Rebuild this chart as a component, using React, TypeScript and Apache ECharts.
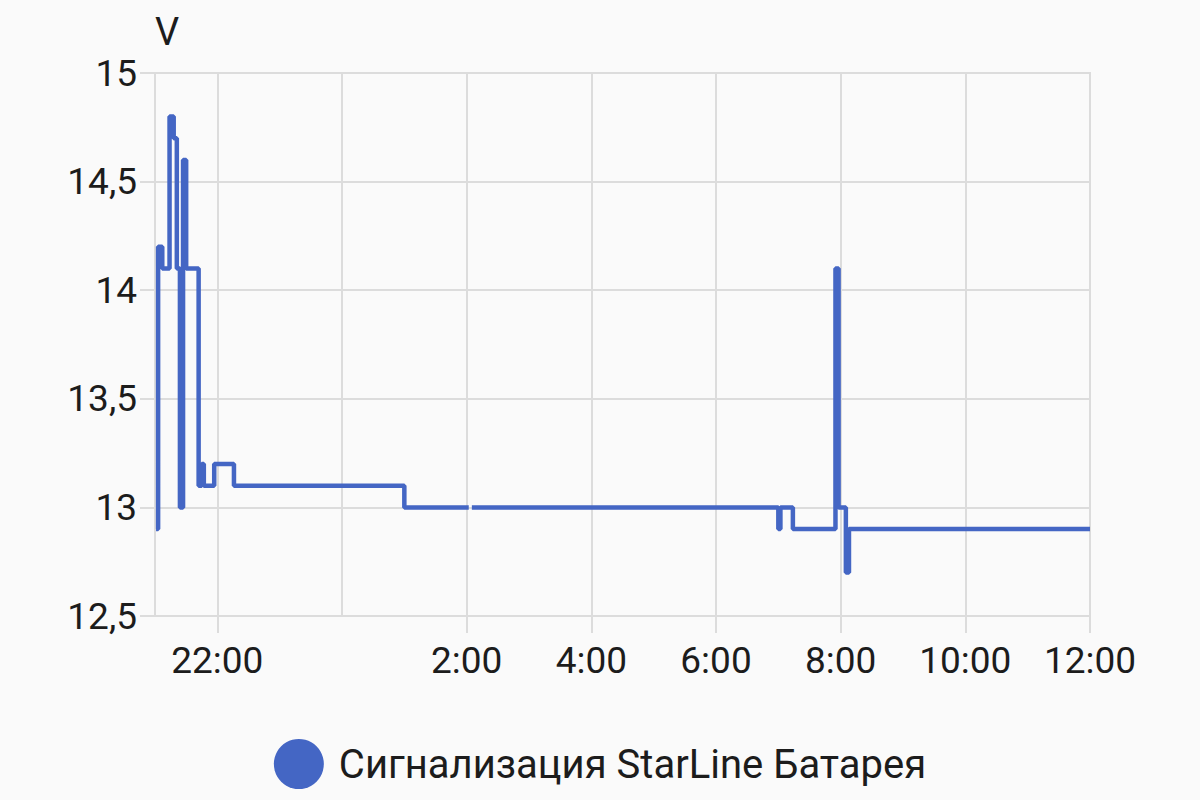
import React, { useEffect, useRef } from "react";
import * as echarts from "echarts";

const seriesName = "Сигнализация StarLine Батарея";
const yAxisName = "V";

// reading times (H:mm), evening of day 1 to noon of day 2
const times: string[] = [
  "21:01", "21:03", "21:07", "21:14", "21:18", "21:21",
  "21:24", "21:27", "21:30", "21:42", "21:45", "21:47",
  "21:57", "22:16", "1:00", "2:02", "2:05", "7:00",
  "7:02", "7:14", "7:55", "7:58", "8:05", "8:08", "12:00",
];
const voltages: (number | null)[] = [
  12.9, 14.2, 14.1, 14.8, 14.7, 14.1,
  13.0, 14.6, 14.1, 13.1, 13.2, 13.1,
  13.2, 13.1, 13.0, null, 13.0, 12.9,
  13.0, 12.9, 14.1, 13.0, 12.7, 12.9, 12.9,
];
const axisStartHour = 21;
const axisEndHour = 36; // 12:00 next day
const gridHourStep = 2;
const yMin = 12.5;
const yMax = 15;
const yStep = 0.5;

// minute-level category axis (the time scale)
const minuteCategories: string[] = [];
for (let m = axisStartHour * 60; m <= axisEndHour * 60; m++) {
  const h = Math.floor(m / 60) % 24;
  const mm = m % 60;
  minuteCategories.push(h + ":" + String(mm).padStart(2, "0"));
}

const isGridHour = (label: string) => {
  const [h, mm] = label.split(":").map(Number);
  return mm === 0 && h % gridHourStep === 0;
};

export default function App() {
  const ref = useRef<HTMLDivElement>(null);
  useEffect(() => {
    if (!ref.current) return;
    const chart = echarts.init(ref.current, undefined, { renderer: "svg" });
    const gridColor = "#dcdcdc";
    const textColor = "#1c1c1c";
    const font = "Roboto";
    const data = times.map((t, i) => [t, voltages[i] === null ? "-" : voltages[i]]);
    chart.setOption({
      animation: false,
      backgroundColor: "#fafafa",
      textStyle: { fontFamily: font },
      grid: {
        left: 155,
        right: 110,
        top: 73,
        bottom: 184,
        show: true,
        borderColor: gridColor,
        borderWidth: 2,
        containLabel: false,
      },
      legend: {
        bottom: 6,
        left: "center",
        icon: "circle",
        itemWidth: 50,
        itemHeight: 50,
        textStyle: {
          fontSize: 40,
          color: textColor,
          fontFamily: font,
          padding: [0, 0, 0, 10],
        },
        data: [seriesName],
      },
      xAxis: {
        type: "category",
        data: minuteCategories,
        boundaryGap: false,
        axisLine: { show: true, lineStyle: { color: gridColor, width: 2 } },
        axisTick: {
          show: true,
          length: 17,
          interval: (i: number, v: string) => isGridHour(v) && v !== "0:00",
          lineStyle: { color: gridColor, width: 2 },
        },
        splitLine: {
          show: true,
          interval: (i: number, v: string) => isGridHour(v),
          lineStyle: { color: gridColor, width: 2 },
        },
        axisLabel: {
          color: textColor,
          fontSize: 37,
          margin: 26,
          fontFamily: font,
          interval: (i: number, v: string) => isGridHour(v) && v !== "0:00",
        },
      },
      yAxis: {
        type: "value",
        min: yMin,
        max: yMax,
        interval: yStep,
        name: yAxisName,
        nameLocation: "end",
        nameGap: 22,
        nameTextStyle: { color: textColor, fontSize: 38, align: "left", fontFamily: font },
        axisLine: { show: true, lineStyle: { color: gridColor, width: 2 } },
        axisTick: { show: true, length: 15, lineStyle: { color: gridColor, width: 2 } },
        splitLine: { show: true, lineStyle: { color: gridColor, width: 2 } },
        axisLabel: {
          color: textColor,
          fontSize: 37,
          margin: 18,
          fontFamily: font,
          formatter: (v: number) => String(v).replace(".", ","),
        },
      },
      series: [
        {
          name: seriesName,
          type: "line",
          step: "end",
          showSymbol: false,
          connectNulls: false,
          data,
          color: "#4466c4",
          lineStyle: { width: 4.5, color: "#4466c4" },
        },
      ],
    });
    return () => chart.dispose();
  }, []);
  return (
    <div
      ref={ref}
      style={{ position: "fixed", left: 0, top: 0, width: 1200, height: 800 }}
    />
  );
}
